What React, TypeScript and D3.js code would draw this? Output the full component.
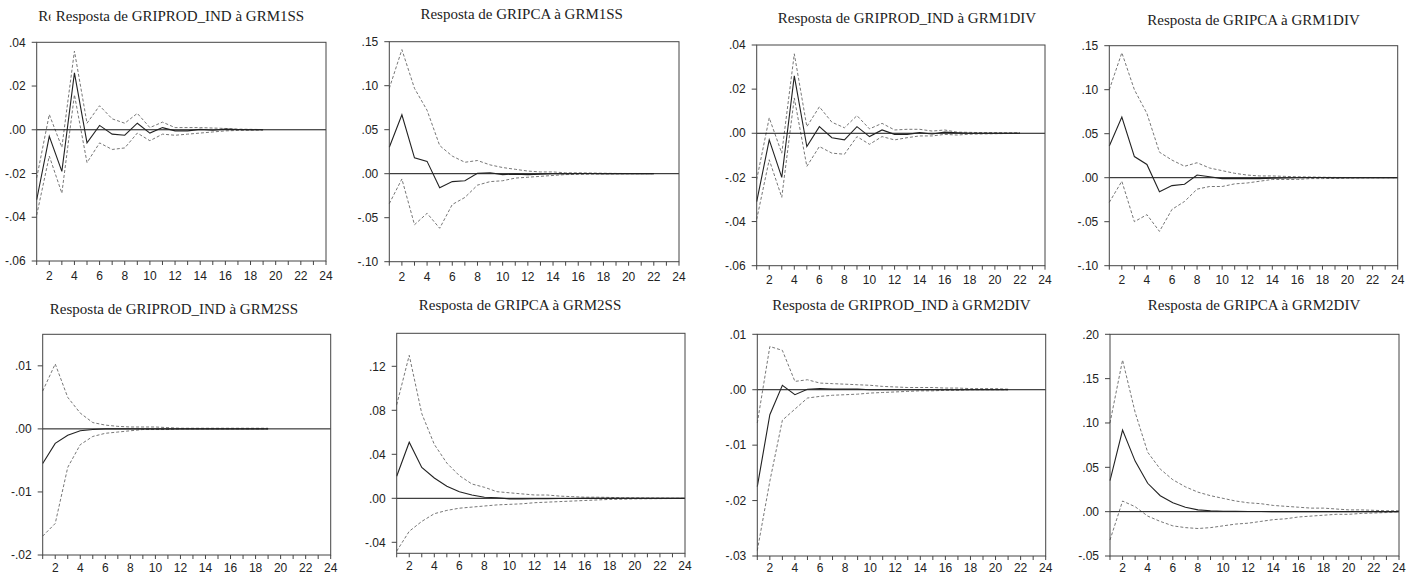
import React from 'react';
import * as d3 from 'd3';

// horizon steps shown on every x axis
const steps = d3.range(1, 25);
const xTickLabels = ['2', '4', '6', '8', '10', '12', '14', '16', '18', '20', '22', '24'];

// --- Resposta de GRIPROD_IND à GRM1SS
const prod1ssResp = [-0.032, -0.003, -0.019, 0.026, -0.006, 0.002, -0.002, -0.0025, 0.003, -0.0015, 0.001, -0.0005, -0.0005, 0.0002, -0.0002, 0.0003, 0.0001, 0.0, 0.0];
const prod1ssUp = [-0.022, 0.007, -0.008, 0.036, 0.003, 0.011, 0.005, 0.003, 0.0075, 0.001, 0.0035, 0.001, 0.001, 0.001, 0.0008, 0.0006, 0.0003, 0.0002, 0.0001];
const prod1ssLo = [-0.039, -0.012, -0.029, 0.016, -0.015, -0.006, -0.009, -0.0083, -0.0015, -0.005, -0.002, -0.0025, -0.002, -0.0015, -0.001, -0.0005, -0.0003, -0.0002, -0.0001];

// --- Resposta de GRIPCA à GRM1SS
const ipca1ssResp = [0.030, 0.067, 0.018, 0.014, -0.016, -0.009, -0.008, 0.0004, 0.001, -0.001, -0.0005, -0.001, -0.0005, 0.0, 0.0, 0.0003, 0.0002, 0.0, 0.0, 0.0, 0.0, 0.0];
const ipca1ssUp = [0.097, 0.141, 0.097, 0.072, 0.032, 0.020, 0.013, 0.015, 0.010, 0.007, 0.005, 0.003, 0.002, 0.002, 0.001, 0.001, 0.0008, 0.0005, 0.0003, 0.0002, 0.0001, 0.0];
const ipca1ssLo = [-0.034, -0.006, -0.058, -0.045, -0.062, -0.035, -0.027, -0.013, -0.009, -0.008, -0.005, -0.004, -0.003, -0.002, -0.001, -0.0008, -0.0005, -0.0003, -0.0002, -0.0001, -0.0001, 0.0];

// --- Resposta de GRIPROD_IND à GRM1DIV
const prod1divResp = [-0.031, -0.003, -0.020, 0.026, -0.006, 0.003, -0.002, -0.003, 0.003, -0.0015, 0.0015, -0.0005, -0.0005, 0.0003, -0.0003, 0.0005, 0.0002, 0.0, 0.0, 0.0, 0.0, 0.0];
const prod1divUp = [-0.021, 0.007, -0.009, 0.036, 0.003, 0.012, 0.005, 0.0025, 0.008, 0.002, 0.0045, 0.0015, 0.0018, 0.0018, 0.001, 0.0015, 0.0005, 0.0004, 0.0003, 0.0003, 0.0002, 0.0002];
const prod1divLo = [-0.039, -0.012, -0.029, 0.016, -0.015, -0.006, -0.009, -0.0095, -0.0015, -0.005, -0.0015, -0.003, -0.002, -0.0012, -0.0012, -0.0005, -0.0008, -0.0004, -0.0003, -0.0002, -0.0001, 0.0];

// --- Resposta de GRIPCA à GRM1DIV
const ipca1divResp = [0.036, 0.069, 0.024, 0.015, -0.016, -0.009, -0.0075, 0.003, 0.001, -0.001, -0.001, -0.001, -0.001, -0.0005, -0.0003, 0.0, 0.0002, 0.0002, 0.0, 0.0, 0.0, 0.0, 0.0, 0.0];
const ipca1divUp = [0.100, 0.142, 0.100, 0.073, 0.029, 0.020, 0.013, 0.017, 0.011, 0.008, 0.005, 0.003, 0.002, 0.002, 0.0015, 0.001, 0.0008, 0.0005, 0.0003, 0.0002, 0.0001, 0.0001, 0.0, 0.0];
const ipca1divLo = [-0.028, -0.004, -0.050, -0.042, -0.061, -0.036, -0.027, -0.013, -0.010, -0.010, -0.007, -0.006, -0.004, -0.002, -0.002, -0.002, -0.001, -0.001, -0.0008, -0.0005, -0.0003, -0.0002, -0.0001, 0.0];

// --- Resposta de GRIPROD_IND à GRM2SS
const prod2ssResp = [-0.0055, -0.0023, -0.001, -0.0003, -0.0001, 0.0, 0.0, 0.0, 0.0, 0.0, 0.0, 0.0, 0.0, 0.0, 0.0, 0.0, 0.0, 0.0, 0.0];
const prod2ssUp = [0.006, 0.0103, 0.005, 0.0025, 0.001, 0.0006, 0.0004, 0.0003, 0.0003, 0.0003, 0.0002, 0.0001, 0.0001, 0.0001, 0.0001, 0.0001, 0.0001, 0.0001, 0.0001];
const prod2ssLo = [-0.017, -0.015, -0.0061, -0.0025, -0.0012, -0.0007, -0.0005, -0.0003, -0.0001, -0.0001, -0.0001, 0.0, 0.0, 0.0, 0.0, 0.0, 0.0, 0.0, 0.0];

// --- Resposta de GRIPCA à GRM2SS
const ipca2ssResp = [0.020, 0.051, 0.028, 0.0185, 0.011, 0.006, 0.003, 0.001, 0.0005, -0.0005, -0.0005, -0.0004, -0.0003, -0.0002, -0.0002, -0.0001, -0.0001, -0.0001, 0.0, 0.0, 0.0, 0.0, 0.0, 0.0];
const ipca2ssUp = [0.085, 0.130, 0.077, 0.049, 0.032, 0.0206, 0.013, 0.010, 0.006, 0.005, 0.004, 0.003, 0.003, 0.002, 0.0015, 0.001, 0.001, 0.0008, 0.0005, 0.0004, 0.0003, 0.0002, 0.0001, 0.0];
const ipca2ssLo = [-0.048, -0.030, -0.021, -0.014, -0.011, -0.009, -0.008, -0.007, -0.006, -0.0055, -0.005, -0.004, -0.0035, -0.003, -0.0025, -0.002, -0.0015, -0.001, -0.0008, -0.0005, -0.0004, -0.0003, -0.0002, -0.0001];

// --- Resposta de GRIPROD_IND à GRM2DIV
const prod2divResp = [-0.0175, -0.0045, 0.0008, -0.0009, 0.0001, 0.0002, 0.0001, 0.0001, 0.0001, 0.0, 0.0, 0.0, 0.0, 0.0, 0.0, 0.0, 0.0, 0.0, 0.0, 0.0, 0.0];
const prod2divUp = [-0.006, 0.0078, 0.0071, 0.0015, 0.0018, 0.0012, 0.0011, 0.001, 0.0009, 0.0008, 0.0006, 0.0005, 0.0004, 0.0004, 0.0004, 0.0003, 0.0003, 0.0002, 0.0002, 0.0002, 0.0001];
const prod2divLo = [-0.029, -0.0165, -0.0055, -0.0035, -0.0015, -0.0012, -0.001, -0.0009, -0.0008, -0.0006, -0.0005, -0.0004, -0.0003, -0.0002, -0.0002, -0.0001, -0.0001, 0.0, 0.0, 0.0, 0.0];

// --- Resposta de GRIPCA à GRM2DIV
const ipca2divResp = [0.035, 0.092, 0.057, 0.032, 0.018, 0.010, 0.005, 0.002, 0.001, 0.0005, 0.0003, 0.0002, 0.0001, 0.0, 0.0, 0.0, 0.0, 0.0, 0.0, 0.0, 0.0, 0.0, 0.0, 0.0];
const ipca2divUp = [0.100, 0.171, 0.112, 0.067, 0.048, 0.036, 0.028, 0.022, 0.018, 0.015, 0.012, 0.010, 0.009, 0.007, 0.006, 0.005, 0.004, 0.004, 0.003, 0.002, 0.002, 0.0015, 0.001, 0.001];
const ipca2divLo = [-0.032, 0.012, 0.0056, -0.005, -0.011, -0.016, -0.018, -0.019, -0.018, -0.016, -0.014, -0.013, -0.011, -0.009, -0.008, -0.006, -0.005, -0.004, -0.003, -0.003, -0.002, -0.0015, -0.001, 0.0];

// y ticks and their labels
const ticksA = [0.04, 0.02, 0, -0.02, -0.04, -0.06];
const labelsA = ['.04', '.02', '.00', '-.02', '-.04', '-.06'];
const ticksB = [0.15, 0.10, 0.05, 0, -0.05, -0.10];
const labelsB = ['.15', '.10', '.05', '.00', '-.05', '-.10'];
const ticksC = [0.01, 0, -0.01, -0.02];
const labelsC = ['.01', '.00', '-.01', '-.02'];
const ticksD = [0.12, 0.08, 0.04, 0, -0.04];
const labelsD = ['.12', '.08', '.04', '.00', '-.04'];
const ticksE = [0.01, 0, -0.01, -0.02, -0.03];
const labelsE = ['.01', '.00', '-.01', '-.02', '-.03'];
const ticksF = [0.20, 0.15, 0.10, 0.05, 0, -0.05];
const labelsF = ['.20', '.15', '.10', '.05', '.00', '-.05'];

const panels = [
  { title: 'Resposta de GRIPROD_IND à GRM1SS', tx: 180, ty: 20.5, box: [36.7, 42.3, 326, 261], lab: 19, dom: [-0.06, 0.04], ticks: ticksA, labels: labelsA, resp: prod1ssResp, up: prod1ssUp, lo: prod1ssLo, ghost: true },
  { title: 'Resposta de GRIPCA à GRM1SS', tx: 521.7, ty: 19.3, box: [389.3, 41.7, 679, 261.7], lab: 19, dom: [-0.10, 0.15], ticks: ticksB, labels: labelsB, resp: ipca1ssResp, up: ipca1ssUp, lo: ipca1ssLo },
  { title: 'Resposta de GRIPROD_IND à GRM1DIV', tx: 907, ty: 23.3, box: [756.7, 45, 1045, 265.7], lab: 18.5, dom: [-0.06, 0.04], ticks: ticksA, labels: labelsA, resp: prod1divResp, up: prod1divUp, lo: prod1divLo },
  { title: 'Resposta de GRIPCA à GRM1DIV', tx: 1253.5, ty: 25, box: [1109.3, 45.7, 1397.7, 265.7], lab: 18.5, dom: [-0.10, 0.15], ticks: ticksB, labels: labelsB, resp: ipca1divResp, up: ipca1divUp, lo: ipca1divLo },
  { title: 'Resposta de GRIPROD_IND à GRM2SS', tx: 174, ty: 314, box: [42.7, 334.3, 330.7, 555], lab: 16.5, dom: [-0.02, 0.015], ticks: ticksC, labels: labelsC, resp: prod2ssResp, up: prod2ssUp, lo: prod2ssLo },
  { title: 'Resposta de GRIPCA à GRM2SS', tx: 520, ty: 310, box: [396.7, 333.3, 685, 553.3], lab: 17, dom: [-0.05, 0.15], ticks: ticksD, labels: labelsD, resp: ipca2ssResp, up: ipca2ssUp, lo: ipca2ssLo },
  { title: 'Resposta de GRIPROD_IND à GRM2DIV', tx: 901.5, ty: 310, box: [757.3, 334.3, 1045.7, 556], lab: 15.5, dom: [-0.03, 0.01], ticks: ticksE, labels: labelsE, resp: prod2divResp, up: prod2divUp, lo: prod2divLo },
  { title: 'Resposta de GRIPCA à GRM2DIV', tx: 1254, ty: 310, box: [1110, 334.3, 1399, 556], lab: 15.5, dom: [-0.05, 0.20], ticks: ticksF, labels: labelsF, resp: ipca2divResp, up: ipca2divUp, lo: ipca2divLo },
];

const serif = "'Liberation Serif', 'Times New Roman', serif";
const sans = "'Liberation Sans', Arial, sans-serif";

const Panel = ({ p }: { p: any }) => {
  const [x0, y0, x1, y1] = p.box;
  const x = d3.scaleLinear().domain([1, 24]).range([x0, x1]);
  const y = d3.scaleLinear().domain(p.dom).range([y1, y0]);
  const line = d3.line<number>().x((d, i) => x(i + 1)).y(d => y(d));
  const frameCol = '#444';
  return (
    <g>
      {p.ghost && (
        // leftover "Re" of an underlying title, cut off in the source
        <g>
          <clipPath id="ghostClip">
            <rect x={0} y={0} width={50.5} height={40} />
          </clipPath>
          <text x={38.3} y={p.ty} fontFamily={serif} fontSize={15} fill="#222" clipPath="url(#ghostClip)">Re</text>
        </g>
      )}
      <text x={p.tx} y={p.ty} textAnchor="middle" fontFamily={serif} fontSize={15} fill="#222">{p.title}</text>
      <path d={line(p.up) || ''} fill="none" stroke="#777" strokeWidth={1} strokeDasharray="3,2" />
      <path d={line(p.lo) || ''} fill="none" stroke="#777" strokeWidth={1} strokeDasharray="3,2" />
      <line x1={x0} x2={x1} y1={y(0)} y2={y(0)} stroke="#111" strokeWidth={1} />
      <path d={line(p.resp) || ''} fill="none" stroke="#222" strokeWidth={1.1} />
      <rect x={x0} y={y0} width={x1 - x0} height={y1 - y0} fill="none" stroke={frameCol} strokeWidth={1} />
      {p.ticks.map((t: number, i: number) => (
        <g key={`y${i}`}>
          <line x1={x0 - 5} x2={x0} y1={y(t)} y2={y(t)} stroke={frameCol} />
          <text x={x0 - 11} y={y(t)} dy="0.35em" textAnchor="end" fontFamily={sans} fontSize={12} fill="#222">{p.labels[i]}</text>
        </g>
      ))}
      {steps.map(s => (
        <line key={`x${s}`} x1={x(s)} x2={x(s)} y1={y1} y2={y1 + 4} stroke={frameCol} />
      ))}
      {xTickLabels.map(l => (
        <text key={`xl${l}`} x={x(+l)} y={y1 + p.lab} textAnchor="middle" fontFamily={sans} fontSize={12} fill="#222">{l}</text>
      ))}
    </g>
  );
};

export default function App() {
  return (
    <svg width={1419} height={576} style={{ position: 'absolute', left: 0, top: 0, background: '#fff' }}>
      <rect width={1419} height={576} fill="#fff" />
      {panels.map((p, i) => <Panel key={i} p={p} />)}
    </svg>
  );
}
